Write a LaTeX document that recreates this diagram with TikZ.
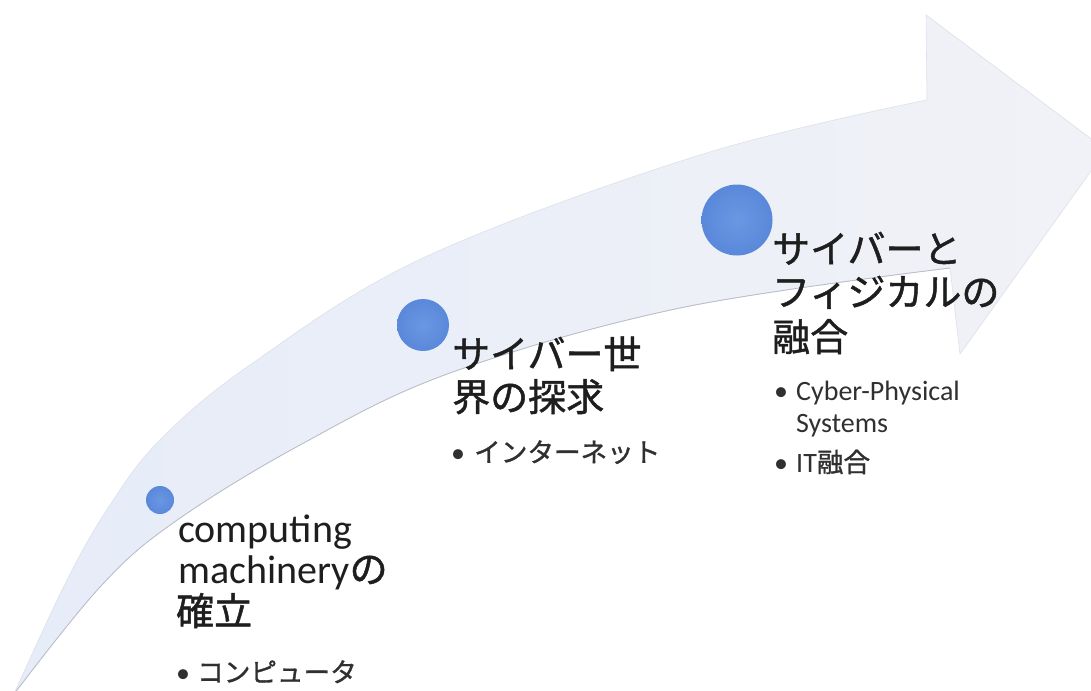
\documentclass[tikz,border=0pt]{standalone}
\usepackage{fontspec}
\setmainfont{Carlito}
\newfontfamily\cjk{Noto Sans CJK JP}[Scale=0.95,FakeBold=1.2]
\definecolor{bandA}{HTML}{E6ECF8}
\definecolor{bandB}{HTML}{F1F2F7}
\definecolor{edgelo}{HTML}{B9BDC7}
\definecolor{edgehi}{HTML}{DCE0E8}
\definecolor{dotc}{HTML}{5A88DA}
\definecolor{dotin}{HTML}{6B97E2}
\definecolor{txt}{HTML}{1E1E1E}
\definecolor{subtxt}{HTML}{303030}
\begin{document}
\begin{tikzpicture}[x=1pt,y=-1pt,
  mainlbl/.style={anchor=base west,inner sep=0pt,text=txt,font=\fontsize{40}{42}\selectfont},
  sublbl/.style={anchor=base west,inner sep=0pt,text=subtxt,font=\fontsize{28}{30}\selectfont},
  milestone/.style={circle,inner sep=0pt,inner color=dotin,outer color=dotc}]
\useasboundingbox (0,0) rectangle (1091,690);
\clip (0,0) rectangle (1091,690);
\fill[white] (0,0) rectangle (1091,690);
% curved arrow band
\shade[left color=bandA,right color=bandB,draw=edgehi,line width=0.6pt]
  plot[smooth,tension=0.6] coordinates {(14,694) (67,580) (110,505) (160,440) (250,365) (423,258) (700,155) (927,100)}
  -- (926,15) -- (1106,150) -- (960,354) -- (950,268)
  -- plot[smooth,tension=0.6] coordinates {(950,268) (680,308) (450,373) (300,445) (173,523) (100,587) (14,694)}
  -- cycle;
\draw[edgelo,line width=0.8pt]
  plot[smooth,tension=0.6] coordinates {(950,268) (680,308) (450,373) (300,445) (173,523) (100,587) (14,694)};
% milestones
\node[milestone,minimum size=28pt] (d1) at (160,500) {};
\node[milestone,minimum size=52pt] (d2) at (423,325) {};
\node[milestone,minimum size=71pt] (d3) at (737,220) {};
% label 1
\node[mainlbl] (l1a) at (178,542) {computing};
\node[mainlbl] (l1b) at (178,583) {machinery{\cjk の}};
\node[mainlbl] (l1c) at (176,625) {\cjk 確立};
\node[sublbl] (b1) at (176,682) {•};
\node[sublbl] (s1) at (197,682) {\cjk コンピュータ};
% label 2
\node[mainlbl] (l2a) at (452,368) {\cjk サイバー世};
\node[mainlbl] (l2b) at (452,411) {\cjk 界の探求};
\node[sublbl] (b2) at (451,462) {•};
\node[sublbl] (s2) at (474,462) {\cjk インターネット};
% label 3
\node[mainlbl] (l3a) at (772,263) {\cjk サイバーと};
\node[mainlbl] (l3b) at (772,306) {\cjk フィジカルの};
\node[mainlbl] (l3c) at (772,351) {\cjk 融合};
\node[sublbl] (b3) at (774,400) {•};
\node[sublbl] (s3a) at (796,400) {Cyber-Physical};
\node[sublbl] (s3b) at (796,432) {Systems};
\node[sublbl] (b4) at (774,472) {•};
\node[sublbl] (s3c) at (796,472) {IT{\cjk 融合}};
\end{tikzpicture}
\end{document}
